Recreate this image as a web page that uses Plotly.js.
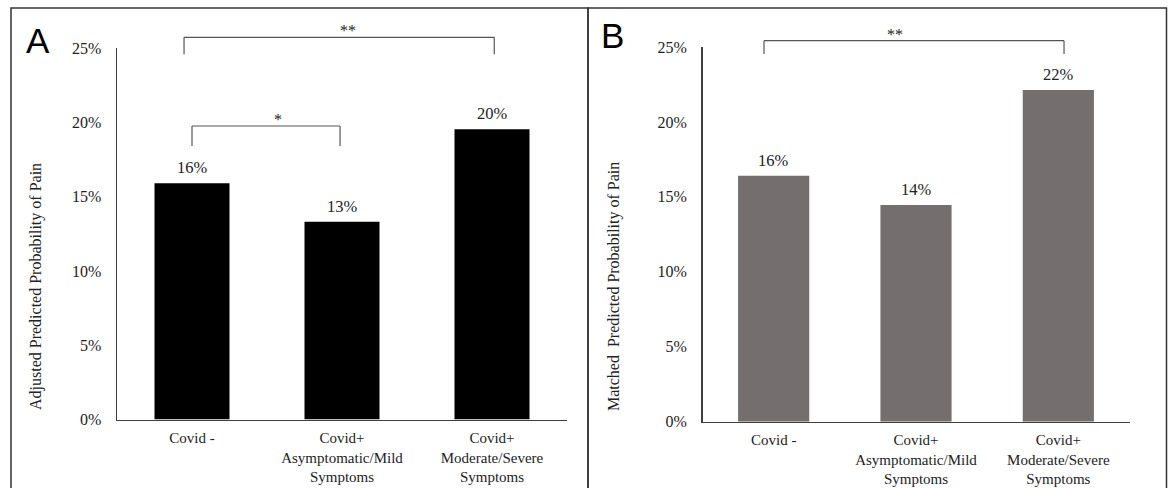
<!DOCTYPE html>
<html>
<head>
<meta charset="utf-8">
<script src="https://cdn.plot.ly/plotly-3.0.1.min.js"></script>
<style>
  html, body { margin: 0; padding: 0; background: #fff; }
  #chart { width: 1168px; height: 488px; }
</style>
</head>
<body>
<div id="chart"></div>
<script>
// ---------------- data ----------------
const categories = ['Covid -', 'Covid+<br>Asymptomatic/Mild<br>Symptoms', 'Covid+<br>Moderate/Severe<br>Symptoms'];
const adjustedValues = [0.159, 0.133, 0.1953];   // panel A
const matchedValues = [0.1641, 0.1446, 0.2213];  // panel B
const valueLabelsA = ['16%', '13%', '20%'];
const valueLabelsB = ['16%', '14%', '22%'];
const yTickVals = [0, 0.05, 0.10, 0.15, 0.20, 0.25];
const yTickText = ['0%', '5%', '10%', '15%', '20%', '25%'];
const panelLetters = ['A', 'B'];
const yTitles = ['Adjusted Predicted Probability of Pain', 'Matched  Predicted Probability of Pain'];
// significance comparisons: [from category index, to category index, marker]
const sigPairsA = [[0, 2, '**'], [0, 1, '*']];
const sigPairsB = [[0, 2, '**']];

// ---------------- layout geometry ----------------
const W = 1168, H = 488;
const serif = "'Liberation Serif', 'Times New Roman', serif";
const sans = "'Liberation Sans', Arial, sans-serif";
const textCol = '#222';
const axCol = '#404040';
const domA = { x: [117 / W, 567 / W], y: [68.5 / H, 440 / H] };
const domB = { x: [702.5 / W, 1129.5 / W], y: [66.3 / H, 441 / H] };
const yMax = 0.25;

function xPaper(dom, idx) { return dom.x[0] + (idx + 0.5) / categories.length * (dom.x[1] - dom.x[0]); }
function yPaper(dom, v) { return dom.y[0] + v / yMax * (dom.y[1] - dom.y[0]); }

const traces = [
  { type: 'bar', x: categories, y: adjustedValues, xaxis: 'x', yaxis: 'y',
    marker: { color: '#000000' }, width: 0.5, hoverinfo: 'skip', showlegend: false },
  { type: 'bar', x: categories, y: matchedValues, xaxis: 'x2', yaxis: 'y2',
    marker: { color: '#746e6e' }, width: 0.5, hoverinfo: 'skip', showlegend: false }
];

const shapes = [];
const annotations = [];

// panel borders
shapes.push({ type: 'rect', xref: 'paper', yref: 'paper', x0: 11 / W, x1: 588 / W, y0: -0.05, y1: (H - 8) / H,
  line: { color: '#333', width: 1.5 } });
shapes.push({ type: 'rect', xref: 'paper', yref: 'paper', x0: 588 / W, x1: 1166.5 / W, y0: -0.05, y1: (H - 8) / H,
  line: { color: '#333', width: 1.5 } });

// value labels
function addValueLabels(vals, labels, xr, yr) {
  vals.forEach((v, i) => {
    annotations.push({ xref: xr, yref: yr, x: i, y: v, text: labels[i], showarrow: false,
      yanchor: 'bottom', yshift: 4, font: { family: serif, size: 16.5, color: textCol } });
  });
}
addValueLabels(adjustedValues, valueLabelsA, 'x', 'y');
addValueLabels(matchedValues, valueLabelsB, 'x2', 'y2');

// significance brackets (levels / offsets are styling positions)
function addBracket(dom, pair, xOff0, xOff1, level, drop, textIdx) {
  const xa = xPaper(dom, pair[0] + xOff0), xb = xPaper(dom, pair[1] + xOff1);
  const yl = yPaper(dom, level), yd = yPaper(dom, drop);
  const line = { color: '#555', width: 1.2 };
  shapes.push({ type: 'line', xref: 'paper', yref: 'paper', x0: xa, x1: xb, y0: yl, y1: yl, line });
  shapes.push({ type: 'line', xref: 'paper', yref: 'paper', x0: xa, x1: xa, y0: yl, y1: yd, line });
  shapes.push({ type: 'line', xref: 'paper', yref: 'paper', x0: xb, x1: xb, y0: yl, y1: yd, line });
  annotations.push({ xref: 'paper', yref: 'paper', x: xPaper(dom, textIdx), y: yl, text: pair[2],
    showarrow: false, yanchor: 'bottom', yshift: -4, font: { family: serif, size: 16, color: textCol } });
}
addBracket(domA, sigPairsA[0], -0.053, 0.015, 0.2572, 0.2458, 0.97);
addBracket(domA, sigPairsA[1], 0.0, -0.013, 0.1975, 0.184, 0.53);
addBracket(domB, sigPairsB[0], -0.068, 0.04, 0.2542, 0.2453, 0.92);

// panel letters
annotations.push({ xref: 'paper', yref: 'paper', x: 38 / W, y: (H - 40.5) / H, text: panelLetters[0],
  showarrow: false, xanchor: 'center', yanchor: 'middle', font: { family: sans, size: 35, color: '#000' } });
annotations.push({ xref: 'paper', yref: 'paper', x: 612 / W, y: (H - 35.5) / H, text: panelLetters[1],
  showarrow: false, xanchor: 'center', yanchor: 'middle', font: { family: sans, size: 35, color: '#000' } });

// y-axis titles
annotations.push({ xref: 'paper', yref: 'paper', x: 36 / W, y: (H - 287) / H, text: yTitles[0], textangle: -90,
  showarrow: false, xanchor: 'center', yanchor: 'middle', font: { family: serif, size: 16, color: textCol } });
annotations.push({ xref: 'paper', yref: 'paper', x: 614 / W, y: (H - 287) / H, text: yTitles[1], textangle: -90,
  showarrow: false, xanchor: 'center', yanchor: 'middle', font: { family: serif, size: 16, color: textCol } });

function xAxis(dom, anchor) {
  return { domain: dom.x, anchor: anchor, type: 'category', showline: true, linecolor: axCol, linewidth: 1.5,
    showgrid: false, zeroline: false, ticks: 'outside', ticklen: 4, tickcolor: 'rgba(0,0,0,0)',
    tickfont: { family: serif, size: 15, color: textCol }, tickangle: 0, fixedrange: true };
}
function yAxis(dom, anchor) {
  return { domain: dom.y, anchor: anchor, range: [0, yMax], tickvals: yTickVals, ticktext: yTickText,
    showline: true, linecolor: axCol, linewidth: 1.5, showgrid: false, zeroline: false,
    ticks: 'outside', ticklen: 11, tickcolor: 'rgba(0,0,0,0)',
    tickfont: { family: serif, size: 16, color: textCol }, fixedrange: true };
}

const layout = {
  width: W, height: H,
  margin: { l: 0, r: 0, t: 0, b: 0 },
  paper_bgcolor: '#fff', plot_bgcolor: 'rgba(0,0,0,0)',
  showlegend: false,
  font: { family: serif },
  xaxis: xAxis(domA, 'y'),
  yaxis: yAxis(domA, 'x'),
  xaxis2: xAxis(domB, 'y2'),
  yaxis2: yAxis(domB, 'x2'),
  shapes: shapes,
  annotations: annotations
};

Plotly.newPlot('chart', traces, layout, { staticPlot: true, displayModeBar: false });
</script>
</body>
</html>
